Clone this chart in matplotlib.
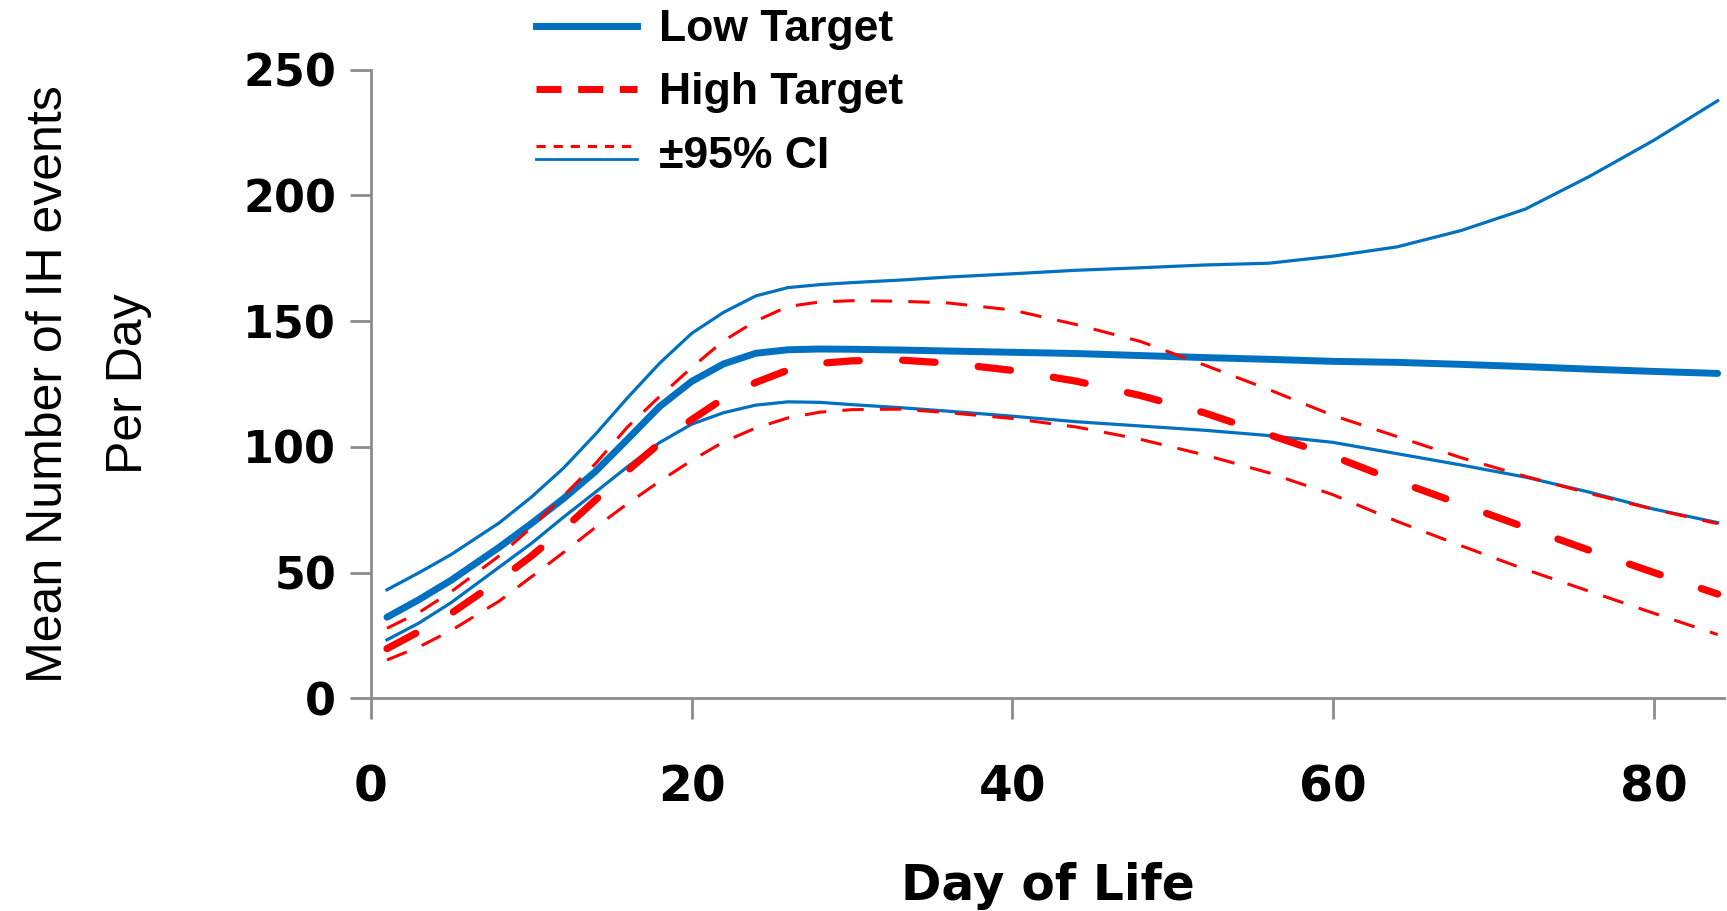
import matplotlib.pyplot as plt
from matplotlib.lines import Line2D
from matplotlib.legend_handler import HandlerBase

# values
days = [1, 3, 5, 8, 10, 12, 14, 16, 18, 20, 22, 24, 26, 28, 30, 33, 36,
        40, 44, 48, 52, 56, 60, 64, 68, 72, 76, 80, 84]

low_mean = [32.3, 39.3, 47.0, 60.1, 69.5, 79.4, 90.2, 103.0, 116.0, 126.0, 133.0, 137.2, 138.6, 138.9,
            138.8, 138.5, 138.1, 137.6, 137.1, 136.3, 135.5, 134.8, 134.0, 133.6, 132.8, 131.9,
            130.9, 130.0, 129.2]
low_upper = [43.2, 50.0, 57.2, 69.8, 80.0, 91.5, 105.0, 119.5, 133.2, 145.1, 153.5, 160.0, 163.3,
             164.5, 165.3, 166.3, 167.5, 168.8, 170.2, 171.2, 172.3, 173.0, 175.8, 179.5, 186.0,
             194.5, 207.5, 221.8, 237.6]
low_lower = [23.3, 30.0, 38.1, 52.2, 61.6, 72.0, 82.0, 92.1, 101.7, 109.0, 113.6, 116.6, 117.9,
             117.7, 116.8, 115.6, 114.2, 112.2, 110.0, 108.3, 106.6, 104.5, 101.8, 97.3, 92.8,
             88.0, 82.0, 75.3, 69.9]

high_mean = [19.8, 26.6, 33.8, 47.0, 56.6, 67.2, 78.9, 90.5, 101.4, 110.8, 119.3, 125.6, 130.5,
             133.2, 134.2, 134.5, 133.3, 130.4, 126.1, 120.4, 113.5, 104.9, 96.3, 86.4, 77.2,
             68.0, 58.9, 50.1, 41.5]
high_upper = [27.9, 34.2, 42.4, 56.7, 67.9, 80.5, 93.3, 107.9, 120.0, 131.5, 142.2, 150.0, 155.8,
              157.6, 158.1, 157.9, 157.2, 154.4, 148.6, 141.9, 132.5, 122.8, 112.5, 104.1, 95.7,
              88.3, 81.5, 75.2, 69.5]
high_lower = [15.3, 20.5, 27.0, 38.7, 48.3, 58.0, 68.0, 77.4, 86.3, 94.6, 102.0, 107.5, 111.5,
              113.8, 114.8, 115.0, 113.6, 111.3, 107.9, 103.0, 96.8, 89.7, 81.0, 70.4, 60.7,
              51.3, 42.6, 33.9, 25.4]

x_ticks = [0, 20, 40, 60, 80]
y_ticks = [0, 50, 100, 150, 200, 250]

blue = '#0070C0'
red = '#FF0000'
grey = '#8C8C8C'


class CIHandler(HandlerBase):
    # legend key for the CI entry: red dashed line above a thin blue line
    def create_artists(self, legend, orig_handle, xdescent, ydescent,
                       width, height, fontsize, trans):
        yc = height / 2 - ydescent
        x0, x1 = -xdescent, width - xdescent
        r = Line2D([x0, x1], [yc + 4.5, yc + 4.5], color=red, lw=2.2, dashes=(3, 2.6))
        b = Line2D([x0, x1], [yc - 5, yc - 5], color=blue, lw=2.0)
        r.set_transform(trans)
        b.set_transform(trans)
        return [r, b]


def main():
    fig = plt.figure(figsize=(17.27, 9.11), dpi=100)
    ax = fig.add_axes([0.2148, 0.2333, 0.7835, 0.6904])

    # blue first, red is drawn over it
    ax.plot(days, low_upper, color=blue, lw=2.3, solid_joinstyle='round')
    ax.plot(days, low_lower, color=blue, lw=2.3, solid_joinstyle='round')
    ax.plot(days, low_mean, color=blue, lw=5, solid_capstyle='round', solid_joinstyle='round')

    ax.plot(days, high_upper, color=red, lw=2.2, dashes=(7, 5.3))
    ax.plot(days, high_lower, color=red, lw=2.2, dashes=(7, 5.3))
    ax.plot(days, high_mean, color=red, lw=5.2, dashes=(4.5, 6), dash_capstyle='round')

    ax.set_xlim(0, 84.4)
    ax.set_ylim(0, 250)
    ax.set_xticks(x_ticks)
    ax.set_yticks(y_ticks)

    for side in ['top', 'right']:
        ax.spines[side].set_visible(False)
    for side in ['left', 'bottom']:
        ax.spines[side].set_color(grey)
        ax.spines[side].set_linewidth(2)

    ax.tick_params(axis='both', direction='out', length=15, width=2, color=grey)
    ax.tick_params(axis='y', pad=10)
    ax.tick_params(axis='x', pad=32)
    plt.setp(ax.get_yticklabels(), fontsize=32, fontweight='bold')
    plt.setp(ax.get_xticklabels(), fontsize=35, fontweight='bold')

    ax.set_xlabel('Day of Life', fontsize=35, fontweight='bold', labelpad=36)
    ax.set_ylabel('Mean Number of IH events\nPer Day',
                  family='Liberation Sans', fontsize=36, linespacing=1.95)
    ax.yaxis.set_label_coords(-0.162, 0.5)

    # legend keys
    key_low = Line2D([], [], color=blue, lw=5)
    key_high = Line2D([], [], color=red, lw=5, dashes=(3.6, 2.4))
    key_ci = (Line2D([], [], color=red), Line2D([], [], color=blue))

    fig.legend([key_low, key_high, key_ci], ['Low Target', 'High Target', '±95% CI'],
               loc='upper left', bbox_to_anchor=(536 / 1727, 0.990), frameon=False,
               prop=dict(family='Liberation Sans', weight='bold', size=32),
               handlelength=2.27, handletextpad=0.5, labelspacing=0.5,
               borderpad=0, borderaxespad=0, handler_map={tuple: CIHandler()})

    fig.savefig('out.png', dpi=100)


if __name__ == '__main__':
    main()
